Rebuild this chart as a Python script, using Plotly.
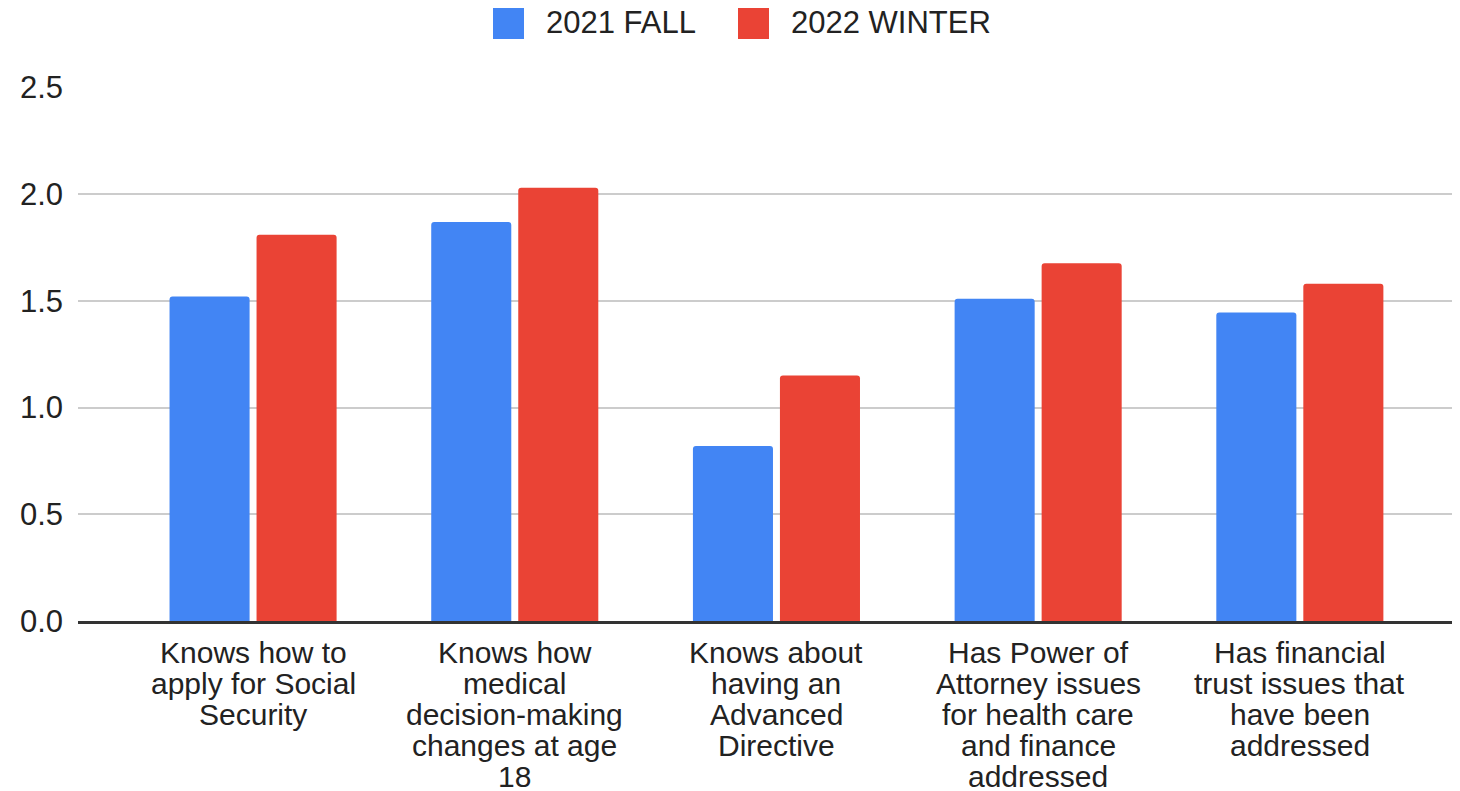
import plotly.graph_objects as go

# categories (wrapped like the original)
categories = [
    "Knows how to<br>apply for Social<br>Security",
    "Knows how<br>medical<br>decision-making<br>changes at age<br>18",
    "Knows about<br>having an<br>Advanced<br>Directive",
    "Has Power of<br>Attorney issues<br>for health care<br>and finance<br>addressed",
    "Has financial<br>trust issues that<br>have been<br>addressed",
]
series_names = ["2021 FALL", "2022 WINTER"]
fall_2021 = [1.52, 1.87, 0.82, 1.51, 1.445]
winter_2022 = [1.81, 2.03, 1.15, 1.676, 1.58]
y_ticks = [0.0, 0.5, 1.0, 1.5, 2.0, 2.5]

FONT = "Liberation Sans, Arial, sans-serif"
TXT = "#222222"
COLORS = ["#4285F4", "#EA4335"]

# the html page has an 8px body margin, so the figure sits 8px right/down
OFF = 8
W, H = 1460, 791
L, T = 78 - OFF, 87 - OFF
R = W - (1460 - OFF)
B = H - (621 - OFF)
pw, ph = W - L - R, H - T - B


def px_x(p):
    # page pixel -> paper x
    return (p - OFF - L) / pw


def px_y(p):
    # page pixel -> paper y
    return (T + ph - (p - OFF)) / ph


fig = go.Figure()
for name, vals, col in zip(series_names, [fall_2021, winter_2022], COLORS):
    fig.add_trace(go.Bar(x=categories, y=vals, name=name,
                         marker=dict(color=col, line=dict(width=0), cornerradius=3)))

# x labels: one annotation per line so the line spacing stays tight
annotations = []
for cat in categories:
    for i, line in enumerate(cat.split("<br>")):
        annotations.append(dict(
            x=cat, xref="x", y=0, yref="paper", text=line, showarrow=False,
            xanchor="center", yanchor="middle", yshift=-31 - 31 * i,
            font=dict(family=FONT, size=30, color=TXT)))

# legend drawn by hand (big rounded squares like the original)
shapes = []
leg_x = [493, 738]
for name, col, lx in zip(series_names, COLORS, leg_x):
    shapes.append(dict(type="rect", xref="paper", yref="paper",
                       x0=px_x(lx), x1=px_x(lx + 31), y0=px_y(39), y1=px_y(8),
                       fillcolor=col, line=dict(width=0)))
    annotations.append(dict(x=px_x(lx + 51), xref="paper", y=px_y(23), yref="paper",
                            text=name, showarrow=False, xanchor="left", yanchor="middle",
                            font=dict(family=FONT, size=31, color=TXT)))

fig.update_layout(
    width=W, height=H,
    margin=dict(l=L, r=R, t=T, b=B),
    paper_bgcolor="white", plot_bgcolor="white",
    font=dict(family=FONT, size=31, color=TXT),
    barmode="group", bargap=0.335, bargroupgap=0.08,
    showlegend=False,
    annotations=annotations,
    shapes=shapes,
)
fig.update_yaxes(range=[0, 2.502], tickvals=y_ticks, ticktext=[f"{v:.1f}" for v in y_ticks],
                 showgrid=True, gridcolor="#cccccc", gridwidth=2,
                 zeroline=False, showline=False, ticks="", ticklabelstandoff=14,
                 automargin=False, tickfont=dict(size=31))
fig.update_xaxes(range=[-0.669, 4.612], showgrid=False, showline=True,
                 linecolor="#333333", linewidth=3, ticks="", showticklabels=False,
                 automargin=False)

fig.write_html("out.html")
